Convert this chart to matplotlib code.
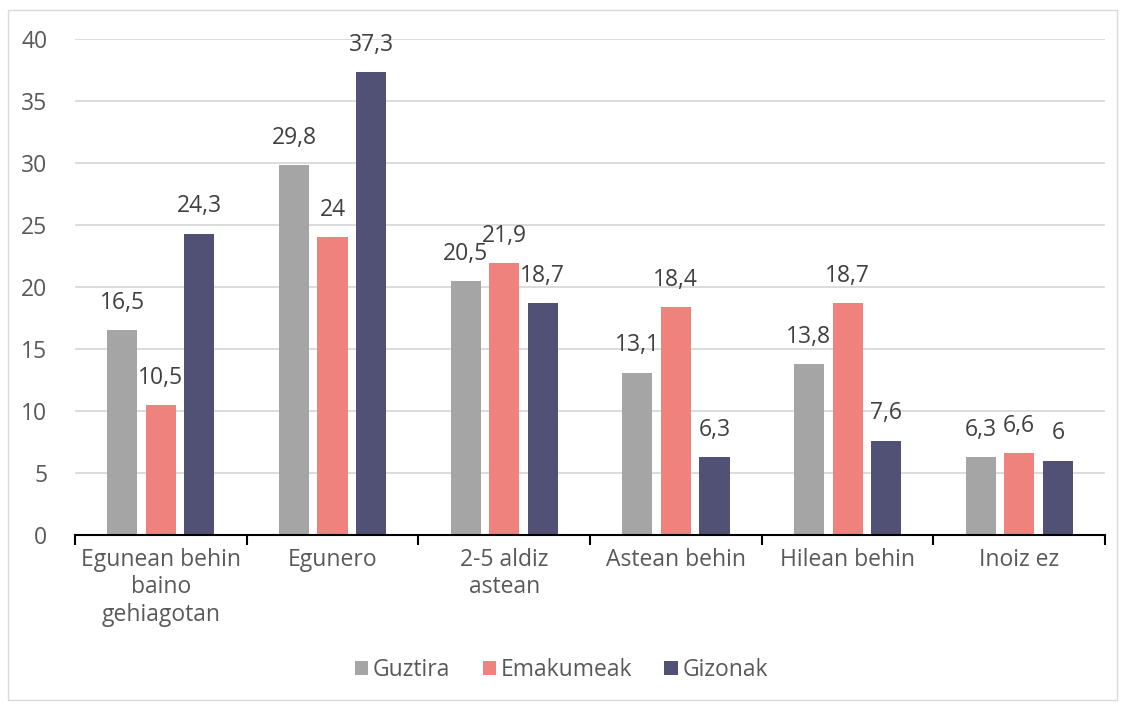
import matplotlib.pyplot as plt
import matplotlib.patches as mpatches
import numpy as np

# data
categories = ["Egunean behin\nbaino\ngehiagotan", "Egunero", "2-5 aldiz\nastean",
              "Astean behin", "Hilean behin", "Inoiz ez"]
series_names = ["Guztira", "Emakumeak", "Gizonak"]
guztira = [16.5, 29.8, 20.5, 13.1, 13.8, 6.3]
emakumeak = [10.5, 24.0, 21.9, 18.4, 18.7, 6.6]
gizonak = [24.3, 37.3, 18.7, 6.3, 7.6, 6.0]
colors = ["#A5A5A5", "#F0827E", "#515175"]

plt.rcParams['font.family'] = ['Open Sans', 'DejaVu Sans']
text_color = "#595959"
fs = 16.5

fig = plt.figure(figsize=(11.23, 7.06), dpi=100)
ax = fig.add_axes([0.0668, 0.2422, 0.9172, 0.7026])

x = np.arange(len(categories))
offsets = [-0.225, 0, 0.225]
width = 0.175
for vals, off, col, name in zip([guztira, emakumeak, gizonak], offsets, colors, series_names):
    bars = ax.bar(x + off, vals, width, color=col, label=name, zorder=3)
    for b, v in zip(bars, vals):
        lab = f"{v:g}".replace(".", ",")
        ax.annotate(lab, (b.get_x() + b.get_width() / 2, v), xytext=(0, 11),
                    textcoords="offset points", ha="center", va="bottom",
                    fontsize=fs, color="#404040")

ax.set_xlim(-0.5, 5.5)
ax.set_ylim(0, 40)
ax.set_yticks(range(0, 41, 5))
ax.yaxis.grid(True, color="#D9D9D9", linewidth=1.3, zorder=0)
ax.tick_params(axis="y", length=0, pad=20, labelsize=fs, labelcolor=text_color)

ax.set_xticks(np.arange(-0.5, 6, 1))
ax.set_xticklabels([])
ax.tick_params(axis="x", which="major", length=7, width=1.5, color="black", direction="out")
ax.set_xticks(x, minor=True)
ax.set_xticklabels(categories, minor=True, fontsize=fs, color=text_color, linespacing=1.2)
ax.tick_params(axis="x", which="minor", length=0, pad=9)

for s in ["top", "right", "left"]:
    ax.spines[s].set_visible(False)
ax.spines["bottom"].set_linewidth(1.5)
ax.spines["bottom"].set_zorder(4)

leg = ax.legend(loc="center", bbox_to_anchor=(0.5, (706 - 670) / 706),
                bbox_transform=fig.transFigure, ncol=3, frameon=False, fontsize=fs,
                handlelength=0.6, handleheight=0.6, handletextpad=0.2, columnspacing=1.4)
for t in leg.get_texts():
    t.set_color(text_color)

# outer chart border
fig.patches.append(mpatches.Rectangle((8 / 1123, 6 / 706), 1109 / 1123, 690 / 706,
                                      transform=fig.transFigure, fill=False,
                                      edgecolor="#D9D9D9", linewidth=1))

fig.savefig("out.png", dpi=100)
